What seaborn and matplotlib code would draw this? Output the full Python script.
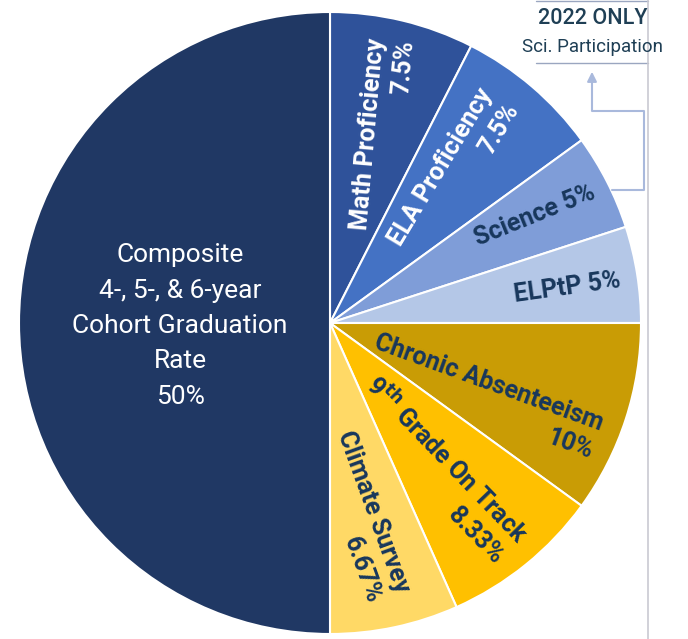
import matplotlib
matplotlib.use('Agg')
import matplotlib.pyplot as plt
import seaborn as sns

# データ (時計回り, 12時から)
categories = ['Math Proficiency', 'ELA Proficiency', 'Science', 'ELPtP',
              'Chronic Absenteeism', '9th Grade On Track', 'Climate Survey',
              'Composite 4-, 5-, & 6-year Cohort Graduation Rate']
weights = [7.5, 7.5, 5, 5, 10, 8.33, 6.67, 50]
pct_labels = ['7.5%', '7.5%', '5%', '5%', '10%', '8.33%', '6.67%', '50%']
slice_colors = ['#2F529A', '#4472C4', '#7F9DD8', '#B4C7E7',
                '#C99C05', '#FFC000', '#FFD966', '#203864']

sns.set_theme(style='white')
plt.rcParams['font.family'] = ['Liberation Sans Narrow', 'Roboto', 'DejaVu Sans']

W, H = 688, 639
fig = plt.figure(figsize=(W / 100, H / 100), dpi=100)

# 円グラフ (中心 330,323 / 半径 311 px)
cx, cy, r = 330, 323, 311
ax = fig.add_axes([(cx - r) / W, (H - cy - r) / H, 2 * r / W, 2 * r / H])
ax.pie(weights, colors=slice_colors, startangle=90, counterclock=False,
       radius=1, wedgeprops=dict(edgecolor='white', linewidth=1.5))
ax.set_xlim(-1, 1)
ax.set_ylim(-1, 1)
ax.set_aspect('equal')
ax.axis('off')

# ラベル・注記用のオーバーレイ (ピクセル座標)
ov = fig.add_axes([0, 0, 1, 1])
ov.set_xlim(0, W)
ov.set_ylim(H, 0)
ov.axis('off')

dark = '#18375C'
fs = 18

def lab(x, y, s, rot, color=dark, align='right', size=fs, weight='bold', ls=1.3):
    ov.text(x, y, s, rotation=rot, rotation_mode='anchor', ha='center', va='center',
            multialignment=align, color=color, fontsize=size, fontweight=weight,
            linespacing=ls)

lab(383, 135, 'Math Proficiency\n' + pct_labels[0], 85, color='white')
lab(454, 175, 'ELA Proficiency\n' + pct_labels[1], 59, color='white')
lab(535, 216, 'Science ' + pct_labels[2], 22)
lab(567, 288, 'ELPtP ' + pct_labels[3], 8)
lab(484, 397, 'Chronic Absenteeism\n' + pct_labels[4], -20)
lab(436, 470, '9$^{\\mathbf{th}}$ Grade On Track\n' + pct_labels[5], -46)
lab(359, 517, 'Climate Survey\n' + pct_labels[6], -70)
lab(180, 326, 'Composite\n4-, 5-, & 6-year\nCohort Graduation\nRate\n' + pct_labels[7],
    0, color='white', align='center', size=19, weight='normal', ls=1.6)

# 2022 ONLY 注記
ov.text(593, 19, '2022 ONLY', ha='center', va='center', color='#1F3F55',
        fontsize=15.5, fontweight='medium')
ov.text(593, 47, 'Sci. Participation', ha='center', va='center', color='#1F3F55',
        fontsize=13.5)
ov.plot([536, 648], [1, 1], color='#9aa6c0', lw=1)
ov.plot([536, 648], [63, 63], color='#9aa6c0', lw=1)
ov.plot([648, 648], [0, H], color='#c9c9d2', lw=1.2)
con = '#A9B9DC'
ov.plot([612, 644, 644, 592, 592], [190, 190, 111, 111, 76], color=con, lw=1.5)
ov.annotate('', xy=(592, 69), xytext=(592, 80),
            arrowprops=dict(arrowstyle='-|>', color=con, lw=1.5, mutation_scale=14))

fig.savefig('out.png', dpi=100)
